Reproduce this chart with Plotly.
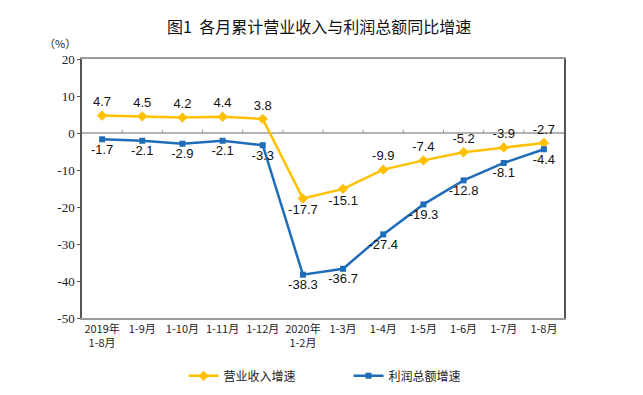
import plotly.graph_objects as go

categories = ["2019年<br>1-8月", "1-9月", "1-10月", "1-11月", "1-12月", "2020年<br>1-2月",
              "1-3月", "1-4月", "1-5月", "1-6月", "1-7月", "1-8月"]
revenue = [4.7, 4.5, 4.2, 4.4, 3.8, -17.7, -15.1, -9.9, -7.4, -5.2, -3.9, -2.7]
profit = [-1.7, -2.1, -2.9, -2.1, -3.3, -38.3, -36.7, -27.4, -19.3, -12.8, -8.1, -4.4]
y_ticks = [20, 10, 0, -10, -20, -30, -40, -50]
revenue_name = "营业收入增速"
profit_name = "利润总额增速"
title = "图1  各月累计营业收入与利润总额同比增速"

YELLOW = "#FFC000"
BLUE = "#1F6CB8"

xs = list(range(len(categories)))
rev_pos = ["bottom center" if v < -15 else "top center" for v in revenue]

fig = go.Figure()
fig.add_trace(go.Scatter(
    x=xs, y=revenue, name=revenue_name, mode="lines+markers+text",
    line=dict(color=YELLOW, width=2.5),
    marker=dict(symbol="diamond", size=8, color=YELLOW),
    text=[f"{v:.1f}" for v in revenue], textposition=rev_pos,
    textfont=dict(family="Liberation Sans, Arial", size=13, color="#111"),
))
fig.add_trace(go.Scatter(
    x=xs, y=profit, name=profit_name, mode="lines+markers+text",
    line=dict(color=BLUE, width=2.5),
    marker=dict(symbol="square", size=6, color=BLUE),
    text=[f"{v:.1f}" for v in profit], textposition="bottom center",
    textfont=dict(family="Liberation Sans, Arial", size=13, color="#111"),
))

# zero line with small category-boundary ticks
shapes = [dict(type="line", xref="paper", yref="y", x0=0, x1=1, y0=0, y1=0,
               line=dict(color="#9a9a9a", width=1.5), layer="below")]
for i in range(1, len(categories)):
    shapes.append(dict(type="line", xref="x", yref="y", x0=i - 0.5, x1=i - 0.5,
                       y0=0, y1=0.9, line=dict(color="#9a9a9a", width=1), layer="below"))

# page has an 8px body margin, so the figure is sized to fill 643x395 from there
fig.update_layout(
    width=635, height=387,
    margin=dict(l=74, r=79, t=51, b=77, autoexpand=False),
    paper_bgcolor="white", plot_bgcolor="white",
    title=dict(text=title, x=0.49, xanchor="center", y=0.951, yanchor="middle",
               font=dict(family="Noto Sans CJK SC", size=16, color="#111")),
    showlegend=True,
    legend=dict(orientation="h", x=0.553, xanchor="center", yref="container", y=0.012,
                yanchor="bottom",
                entrywidth=120, font=dict(family="Noto Sans CJK SC", size=12, color="#222"),
                itemwidth=30),
    shapes=shapes,
    annotations=[dict(text="（%）", xref="paper", yref="paper", x=-0.045, y=1.025,
                      xanchor="center", yanchor="bottom", showarrow=False,
                      font=dict(family="Noto Sans CJK SC", size=11, color="#222"))],
)
fig.update_xaxes(
    tickmode="array", tickvals=xs, ticktext=categories, range=[-0.5, len(categories) - 0.5],
    showgrid=False, zeroline=False, showline=True, linecolor="#9a9a9a", linewidth=1.5,
    mirror=True, ticks="", automargin=False,
    tickfont=dict(family="Noto Sans CJK SC", size=11, color="#222"),
)
fig.update_yaxes(
    range=[-50, 20], tickmode="array", tickvals=y_ticks, ticktext=[str(v) for v in y_ticks],
    showgrid=False, zeroline=False, automargin=False,
    showline=True, linecolor="#555", linewidth=1.5, mirror=True,
    ticks="outside", ticklen=3, tickcolor="#555",
    tickfont=dict(family="Liberation Serif", size=13, color="#222"),
)
fig.write_html("out.html")
